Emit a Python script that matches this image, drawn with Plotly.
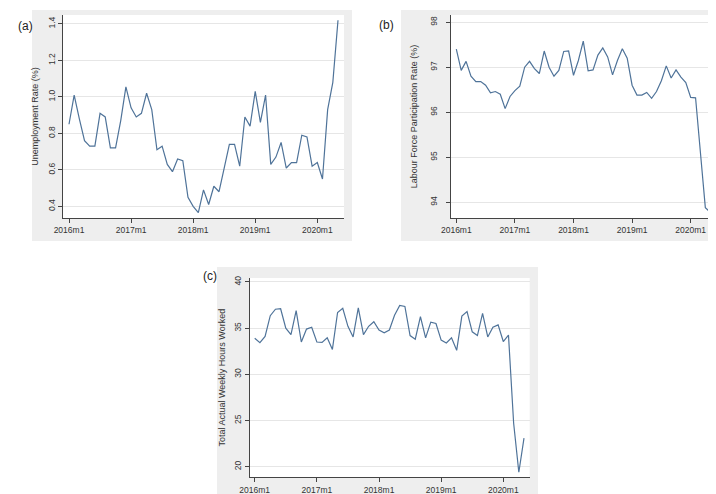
import plotly.graph_objects as go

tick_pos = [0, 12, 24, 36, 48]
tick_labels = ["2016m1", "2017m1", "2018m1", "2019m1", "2020m1"]

unemployment = [0.85, 1.01, 0.88, 0.76, 0.73, 0.73, 0.91, 0.89, 0.72, 0.72, 0.87, 1.055,
                0.94, 0.89, 0.91, 1.02, 0.93, 0.71, 0.73, 0.63, 0.59, 0.66, 0.65, 0.45,
                0.40, 0.365, 0.49, 0.41, 0.51, 0.48, 0.61, 0.74, 0.74, 0.62, 0.89, 0.84,
                1.03, 0.86, 1.01, 0.63, 0.67, 0.75, 0.61, 0.64, 0.64, 0.79, 0.78, 0.62,
                0.64, 0.55, 0.93, 1.08, 1.42]

participation = [97.4, 96.93, 97.13, 96.8, 96.68, 96.68, 96.6, 96.43, 96.46, 96.4, 96.08, 96.35,
                 96.48, 96.58, 97.0, 97.13, 96.97, 96.86, 97.36, 97.0, 96.8, 96.93, 97.35, 97.36,
                 96.82, 97.15, 97.58, 96.92, 96.94, 97.27, 97.43, 97.23, 96.83, 97.15, 97.41, 97.2,
                 96.6, 96.38, 96.38, 96.44, 96.31, 96.46, 96.7, 97.03, 96.76, 96.94, 96.78, 96.66,
                 96.33, 96.32, 95.1, 93.88, 93.78]

hours = [33.9, 33.43, 34.1, 36.35, 37.05, 37.1, 35.0, 34.3, 36.9, 33.5, 34.9, 35.1,
         33.5, 33.45, 33.95, 32.7, 36.7, 37.15, 35.2, 34.05, 37.2, 34.3, 35.2, 35.7,
         34.8, 34.5, 34.8, 36.4, 37.45, 37.35, 34.2, 33.8, 36.25, 33.95, 35.65, 35.5,
         33.7, 33.4, 33.95, 32.6, 36.3, 36.8, 34.6, 34.2, 36.6, 34.05, 35.1, 35.35,
         33.55, 34.25, 24.7, 19.4, 23.1]

months = list(range(len(unemployment)))

W, H = 716, 494
LINE = "#4f7399"
FONT = "Liberation Sans, Arial, sans-serif"
PANEL = "#eeeeee"

def px_x(p):
    return p / W

def px_y(p):
    return 1 - p / H

fig = go.Figure()
fig.add_trace(go.Scatter(x=months, y=unemployment, mode="lines", line=dict(color=LINE, width=1.2),
                         xaxis="x", yaxis="y", showlegend=False))
fig.add_trace(go.Scatter(x=months, y=participation, mode="lines", line=dict(color=LINE, width=1.2),
                         xaxis="x2", yaxis="y2", showlegend=False))
fig.add_trace(go.Scatter(x=months, y=hours, mode="lines", line=dict(color=LINE, width=1.2),
                         xaxis="x3", yaxis="y3", showlegend=False))

def xaxis(domain, anchor, rng):
    return dict(domain=domain, anchor=anchor, range=rng, tickmode="array",
                tickvals=tick_pos, ticktext=tick_labels, showgrid=False, zeroline=False,
                showline=True, linecolor="#444444", linewidth=1, ticks="outside",
                ticklen=4, tickcolor="#444444", tickfont=dict(size=8.5, color="#333333", family=FONT),
                automargin=False, fixedrange=True)

def yaxis(domain, anchor, rng, vals, fmt, title, standoff=6, label_gap=None):
    d = dict(domain=domain, anchor=anchor, range=rng, tickmode="array", tickvals=vals,
             tickformat=fmt, showgrid=True, gridcolor="#e6e6e6", gridwidth=1, zeroline=False,
             showline=True, linecolor="#444444", linewidth=1, ticks="outside", ticklen=4,
             tickcolor="#444444", tickangle=-90,
             tickfont=dict(size=8.5, color="#333333", family=FONT),
             title=dict(text=title, font=dict(size=9, color="#333333", family=FONT), standoff=standoff),
             automargin=False, fixedrange=True)
    if label_gap is not None:
        d["ticklabelstandoff"] = label_gap
    return d

def rect(x0, x1, y0, y1, color):
    return dict(type="rect", xref="paper", yref="paper", x0=px_x(x0), x1=px_x(x1),
                y0=px_y(y1), y1=px_y(y0), fillcolor=color, line=dict(width=0), layer="below")

white_gaps = [
    rect(0, 24, 0, 259, "white"),
    rect(344, 393, 0, 259, "white"),
    rect(711, 716, 0, 259, "white"),
    rect(0, 716, 0, 2, "white"),
    rect(0, 716, 233, 259, "white"),
    rect(0, 209, 259, 494, "white"),
    rect(530, 716, 259, 494, "white"),
]

ya_dom = [px_y(210), px_y(7)]
fig.update_layout(
    width=W, height=H, margin=dict(l=0, r=0, t=0, b=0),
    paper_bgcolor=PANEL, plot_bgcolor="white", template="none",
    font=dict(family=FONT),
    xaxis=xaxis([px_x(55), px_x(336)], "y", [-1.16, 53.16]),
    yaxis=yaxis(ya_dom, "x", [0.336, 1.449], [0.4, 0.6, 0.8, 1.0, 1.2, 1.4], ".1f",
                "Unemployment Rate (%)"),
    xaxis2=xaxis([px_x(442.7), px_x(706.7)], "y2", [-1.15, 52.92]),
    yaxis2=yaxis(ya_dom, "x2", [93.65, 98.16], [94, 95, 96, 97, 98], "d",
                 "Labour Force Participation Rate (%)", standoff=10, label_gap=5),
    xaxis3=xaxis([px_x(241.7), px_x(521.7)], "y3", [-0.97, 53.1]),
    yaxis3=yaxis([px_y(469.3), px_y(270)], "x3", [18.85, 40.43], [20, 25, 30, 35, 40], "d",
                 "Total Actual Weekly Hours Worked"),
    shapes=white_gaps,
    annotations=[
        dict(text="(a)", x=px_x(8), y=px_y(9), xref="paper", yref="paper", showarrow=False,
             font=dict(size=12, color="#222222", family=FONT)),
        dict(text="(b)", x=px_x(378), y=px_y(8), xref="paper", yref="paper", showarrow=False,
             font=dict(size=12, color="#222222", family=FONT)),
        dict(text="(c)", x=px_x(192.5), y=px_y(268), xref="paper", yref="paper", showarrow=False,
             font=dict(size=12, color="#222222", family=FONT)),
    ],
)

fig.write_html("out.html")
